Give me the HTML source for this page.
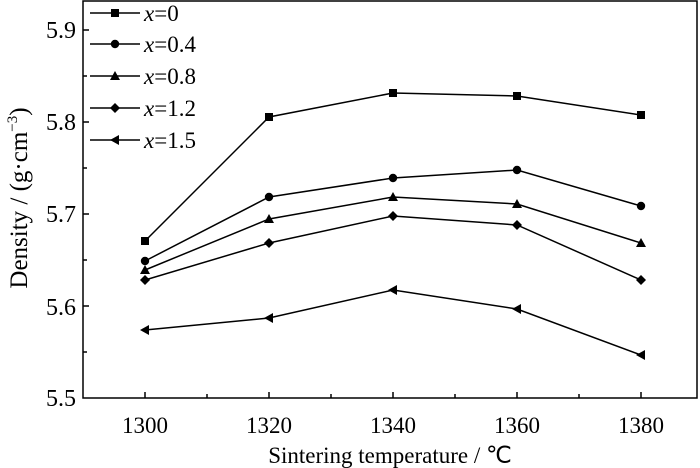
<!DOCTYPE html>
<html><head><meta charset="utf-8"><style>body{margin:0;background:#fff}svg{display:block}</style></head><body>
<svg width="700" height="468" xmlns="http://www.w3.org/2000/svg" font-family="Liberation Serif, serif" fill="#000">
<defs>
<path id="t" d="M0 -5L5 4H-5Z"/>
<path id="d" d="M0 -5L5 0L0 5L-5 0Z"/>
<path id="l" d="M-5 0L4 -5V5Z"/>
</defs>
<g stroke="#000" stroke-width="1.5" fill="none">
<rect x="83" y="1" width="614" height="397"/>
<path d="M83 30h6M83 76h4M83 122h6M83 168h4M83 214h6M83 260h4M83 306h6M83 352h4"/>
<path d="M145 398v-6M207 398v-4M269 398v-6M331 398v-4M393 398v-6M455 398v-4M517 398v-6M579 398v-4M641 398v-6"/>
<polyline points="145,241 269,117 393,93 517,96 641,115"/>
<polyline points="145,261 269,197 393,178 517,170 641,206"/>
<polyline points="145,270 269,219 393,197 517,204 641,243"/>
<polyline points="145,280 269,243 393,216 517,225 641,280"/>
<polyline points="145,330 269,318 393,290 517,309 641,355"/>
<path d="M90 13h50M90 44h50M90 76h50M90 108h50M90 140h50"/>
</g>
<g>
<rect x="141" y="237" width="8" height="8"/><rect x="265" y="113" width="8" height="8"/><rect x="389" y="89" width="8" height="8"/><rect x="513" y="92" width="8" height="8"/><rect x="637" y="111" width="8" height="8"/><rect x="111" y="9" width="8" height="8"/>
<circle cx="145" cy="261" r="4.2"/><circle cx="269" cy="197" r="4.2"/><circle cx="393" cy="178" r="4.2"/><circle cx="517" cy="170" r="4.2"/><circle cx="641" cy="206" r="4.2"/><circle cx="115" cy="44" r="4.2"/>
<use href="#t" x="145" y="270"/><use href="#t" x="269" y="219"/><use href="#t" x="393" y="197"/><use href="#t" x="517" y="204"/><use href="#t" x="641" y="243"/><use href="#t" x="115" y="76"/>
<use href="#d" x="145" y="280"/><use href="#d" x="269" y="243"/><use href="#d" x="393" y="216"/><use href="#d" x="517" y="225"/><use href="#d" x="641" y="280"/><use href="#d" x="115" y="108"/>
<use href="#l" x="145" y="330"/><use href="#l" x="269" y="318"/><use href="#l" x="393" y="290"/><use href="#l" x="517" y="309"/><use href="#l" x="641" y="355"/><use href="#l" x="115" y="140"/>
</g>
<g font-size="23">
<text x="144" y="21"><tspan font-style="italic">x</tspan>=0</text>
<text x="144" y="52"><tspan font-style="italic">x</tspan>=0.4</text>
<text x="144" y="84"><tspan font-style="italic">x</tspan>=0.8</text>
<text x="144" y="116"><tspan font-style="italic">x</tspan>=1.2</text>
<text x="144" y="148"><tspan font-style="italic">x</tspan>=1.5</text>
</g>
<g font-size="24" text-anchor="end">
<text x="76" y="38">5.9</text><text x="76" y="130">5.8</text><text x="76" y="222">5.7</text><text x="76" y="315">5.6</text><text x="76" y="406">5.5</text>
</g>
<g font-size="23" text-anchor="middle">
<text x="145" y="433">1300</text><text x="269" y="433">1320</text><text x="393" y="433">1340</text><text x="517" y="433">1360</text><text x="641" y="433">1380</text>
<text x="390" y="463">Sintering temperature / ℃</text>
<text font-size="25" transform="translate(27 198) rotate(-90)">Density / (g·cm<tspan font-size="15" dy="-10">−3</tspan><tspan dy="10">)</tspan></text>
</g>
</svg>
</body></html>
